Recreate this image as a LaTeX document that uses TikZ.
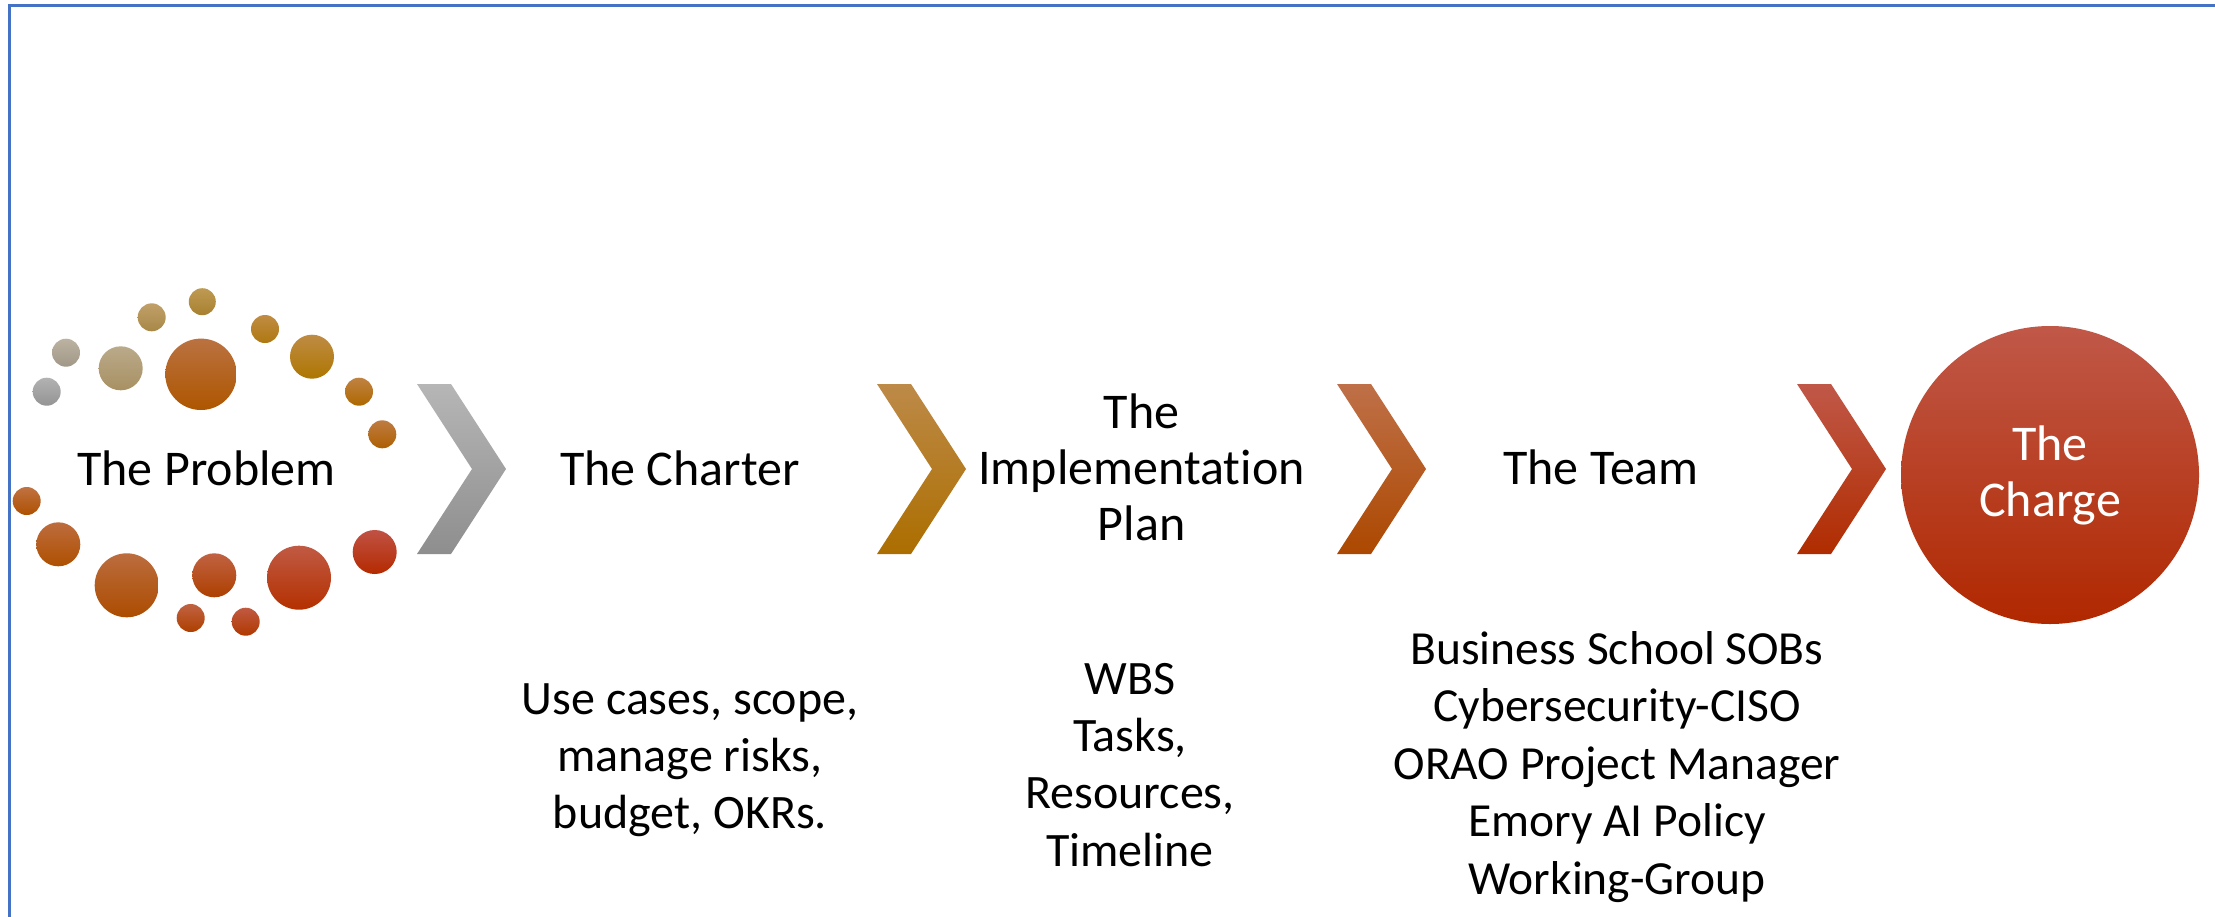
\documentclass[tikz,border=0pt]{standalone}
\usepackage{fontspec}
\setmainfont{Carlito}[Ligatures={NoCommon}]
\newcommand\mystrut{\rule[-12bp]{0pt}{50bp}}
\definecolor{frameblue}{HTML}{4472C4}
\definecolor{chtop}{HTML}{C05848}
\definecolor{chmid}{HTML}{BB3100}
\definecolor{chbot}{HTML}{B02800}
\tikzset{
  lbl/.style={inner sep=0pt, outer sep=0pt, align=center, anchor=north, text=black,
    font=\fontsize{50bp}{56bp}\selectfont},
  desc/.style={lbl, font=\fontsize{48bp}{57bp}\selectfont},
  teamtxt/.style={lbl, font=\fontsize{47.5bp}{57.5bp}\selectfont},
  grad/.style={shading=axis, top color=gtop, bottom color=gbot, draw=none},
}
\newcommand\dotc[4]{%
  \definecolor{gtop}{HTML}{#1}\definecolor{gbot}{HTML}{#2}%
  \path[grad] #3 circle (#4bp);}
\newcommand\chevron[3]{%
  \definecolor{gtop}{HTML}{#2}\definecolor{gbot}{HTML}{#3}%
  \path[grad] (#1,384) -- ++(34,0) -- ++(55,85) -- ++(-55,85) -- ++(-34,0) -- ++(55,-85) -- cycle;}
\begin{document}
\begin{tikzpicture}[x=1bp,y=-1bp]
\useasboundingbox (0,0) rectangle (2215,916);
\fill[white] (0,0) rectangle (2215,916);
% frame
\draw[frameblue, line width=2.5bp] (9.7,930) -- (9.7,5.5) -- (2230,5.5);

% dots of "The Problem"
\dotc{B2B2B2}{949494}{(46.7,391.7)}{14}
\dotc{BCB2A2}{A09886}{(66,352.7)}{14}
\dotc{BAAA8A}{A89062}{(120.7,368.3)}{22}
\dotc{C0A068}{A88848}{(151.7,317.3)}{14}
\dotc{BE9A52}{A88030}{(202.3,301.7)}{13.5}
\dotc{BA7240}{AE5600}{(201,374.3)}{35.7}
\dotc{C08C44}{AE7810}{(265,329)}{14}
\dotc{BE8C44}{AE7600}{(312,356.7)}{22}
\dotc{C08242}{AE6800}{(359,391.7)}{14}
\dotc{BE7C42}{AE6000}{(382.3,434.3)}{14}
\dotc{C07242}{AE5000}{(26.7,501)}{14}
\dotc{BE6C3E}{AE5000}{(58.3,544.3)}{22}
\dotc{BC6C3E}{AC4C00}{(126.7,585.3)}{32}
\dotc{C06242}{AE4000}{(190.7,618)}{14}
\dotc{C06242}{AE4000}{(214.3,575.3)}{22}
\dotc{C05A42}{B03800}{(245.7,621.7)}{14}
\dotc{C05A44}{B43000}{(299,577.7)}{32}
\dotc{C05244}{B42A00}{(374.7,552)}{22}

% chevrons
\chevron{417}{B6B6B6}{8E8E8E}
\chevron{877}{BD8A48}{AC6E00}
\chevron{1337}{BF7048}{AC4800}
\chevron{1797}{C05848}{B02C00}

% labels
\node[lbl] (problem) at (206.5,447) {\mystrut The Problem};
\node[lbl] (charter) at (680,447) {\mystrut The Charter};
\node[lbl] (impl) at (1141.5,390.3) {\mystrut The\\\mystrut Implementation\\\mystrut Plan};
\node[lbl] (team) at (1601,446) {\mystrut The Team};
\node[circle, minimum size=298bp, inner sep=0pt, shading=axis, top color=chtop, middle color=chmid,
      bottom color=chbot, text=white, align=center, font=\fontsize{50bp}{56bp}\selectfont]
      (charge) at (2050,475) {\mystrut The\\\mystrut Charge};

% descriptions
\node[desc] (charterdesc) at (690,676) {\mystrut Use cases, scope,\\\mystrut manage risks,\\\mystrut budget, OKRs.};
\node[desc, font=\fontsize{48bp}{57.4bp}\selectfont] (impldesc) at (1130,656) {\mystrut WBS\\\mystrut Tasks,\\\mystrut Resources,\\\mystrut Timeline};
\node[teamtxt] (teamdesc) at (1617,626) {\mystrut Business School SOBs\\\mystrut Cybersecurity-CISO\\\mystrut ORAO Project Manager\\\mystrut Emory AI Policy\\\mystrut Working-Group};
\end{tikzpicture}
\end{document}
